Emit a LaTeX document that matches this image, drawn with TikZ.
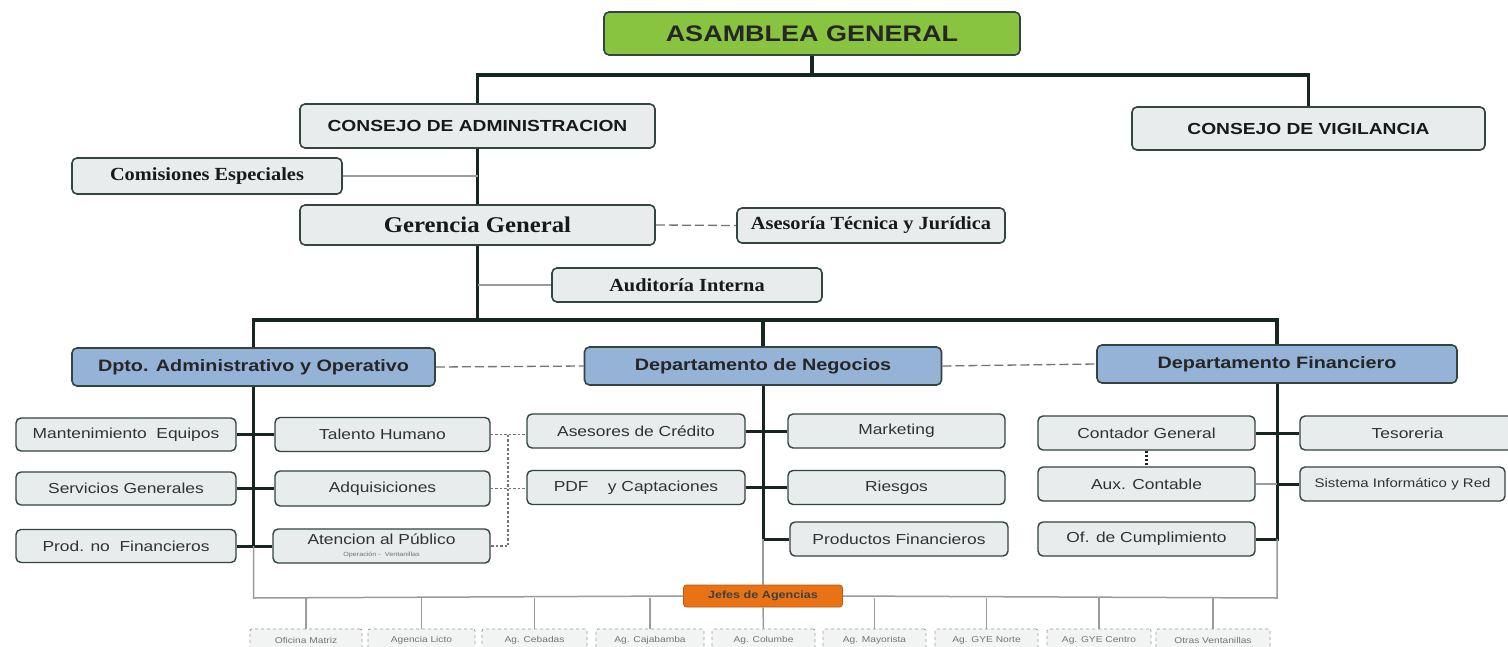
\documentclass[tikz,border=0pt]{standalone}
\usepackage{fontspec}
\setmainfont{Liberation Sans}[FakeStretch=1.2]
\newfontfamily\serifb{Liberation Serif}[FakeStretch=1.1]
\definecolor{grn}{RGB}{137,196,64}
\definecolor{bline}{RGB}{52,68,64}
\definecolor{gfill}{RGB}{233,236,236}
\definecolor{bfill}{RGB}{149,179,215}
\definecolor{orng}{RGB}{232,114,20}
\definecolor{trunk}{RGB}{24,38,32}
\definecolor{thin}{RGB}{155,155,155}
\definecolor{txt}{RGB}{50,50,50}
\begin{document}
\begin{tikzpicture}[x=1pt,y=-1pt,
  base/.style={draw=bline, line width=1.6pt, rounded corners=5pt, inner sep=0pt, align=center},
  greenbox/.style={base, fill=grn, text=black!85, font=\bfseries\fontsize{22.5}{24}\selectfont},
  headbox/.style={base, fill=gfill, text=black!90, font=\bfseries\fontsize{16}{18}\selectfont},
  serifbox/.style={base, fill=gfill, text=black!90, font=\serifb\bfseries\fontsize{18.5}{20}\selectfont},
  deptbox/.style={base, fill=bfill, text=black!85, font=\bfseries\fontsize{16.5}{18}\selectfont},
  smallbox/.style={base, line width=1.4pt, fill=gfill, text=txt, font=\fontsize{14.5}{15}\selectfont},
  agbox/.style={draw=thin, dashed, line width=0.8pt, rounded corners=2pt, fill=gfill!60, text=black!55, inner sep=0pt, font=\fontsize{8.5}{9}\selectfont, minimum height=23pt},
  jefebox/.style={draw=orng!80!black, line width=0.8pt, rounded corners=3pt, fill=orng, text=black!75, inner sep=0pt, font=\bfseries\fontsize{10.5}{11}\selectfont},
  thickline/.style={draw=trunk, line width=3.6pt},
  midline/.style={draw=trunk, line width=3pt},
  thinline/.style={draw=thin, line width=1.8pt},
  dashline/.style={draw=black!55, line width=1.3pt, dash pattern=on 9pt off 4pt},
  dotline/.style={draw=black!55, line width=1.1pt, dash pattern=on 2.5pt off 2pt},
  bottomline/.style={draw=thin, line width=1.5pt}
]
\useasboundingbox (0,0) rectangle (1508,646);
\clip (0,0) rectangle (1508,646);
\fill[white] (0,0) rectangle (1508,646);

% ---------- coordinates ----------
\coordinate (topbar) at (0,75);
\coordinate (midbar) at (0,320);
\coordinate (botbar) at (0,598);
\coordinate (dotx) at (508,0);

% ---------- nodes ----------
\node[greenbox, minimum width=416pt, minimum height=43pt] (asm) at (812,33.5) {ASAMBLEA GENERAL};
\node[headbox, minimum width=355pt, minimum height=44pt] (cadm) at (477.5,126) {CONSEJO DE ADMINISTRACION};
\node[headbox, minimum width=353pt, minimum height=43pt] (cvig) at (1308.5,128.5) {CONSEJO DE VIGILANCIA};
\node[serifbox, minimum width=270pt, minimum height=36pt] (com) at (207,176) {Comisiones Especiales};
\node[serifbox, minimum width=355pt, minimum height=40pt, font=\serifb\bfseries\fontsize{22.5}{24}\selectfont] (ger) at (477.5,225) {Gerencia General};
\node[serifbox, minimum width=268pt, minimum height=35pt] (ase) at (871,225.5) {Asesoría Técnica y Jurídica};
\node[serifbox, minimum width=270pt, minimum height=34pt] (aud) at (687,285) {Auditoría Interna};

\node[deptbox, minimum width=363pt, minimum height=38pt] (dadm) at (253.5,367) {Dpto. Administrativo y Operativo};
\node[deptbox, minimum width=357pt, minimum height=38pt] (dneg) at (763,366) {Departamento de Negocios};
\node[deptbox, minimum width=360pt, minimum height=38pt] (dfin) at (1277,364) {Departamento Financiero};

\node[smallbox, minimum width=220pt, minimum height=33pt] (mant) at (126,434.5) {Mantenimiento\ \ Equipos};
\node[smallbox, minimum width=215pt, minimum height=34pt] (tal) at (382.5,434.5) {Talento Humano};
\node[smallbox, minimum width=220pt, minimum height=33pt] (serv) at (126,488.5) {Servicios Generales};
\node[smallbox, minimum width=215pt, minimum height=35pt] (adq) at (382.5,488.5) {Adquisiciones};
\node[smallbox, minimum width=220pt, minimum height=33pt] (prod) at (126,546) {Prod. no\ \ Financieros};
\node[smallbox, minimum width=217pt, minimum height=34pt] (aten) at (381.5,546) {Atencion al Público\\[-3pt]{\fontsize{6}{6}\selectfont\color{black!55}Operación -\ \ Ventanillas}};

\node[smallbox, minimum width=218pt, minimum height=34pt] (asesc) at (636,431) {Asesores de Crédito};
\node[smallbox, minimum width=217pt, minimum height=34pt] (mkt) at (896.5,431) {Marketing};
\node[smallbox, minimum width=218pt, minimum height=34pt] (pdf) at (636,487.5) {PDF\ \ \ \ y Captaciones};
\node[smallbox, minimum width=217pt, minimum height=34pt] (rie) at (896.5,487.5) {Riesgos};
\node[smallbox, minimum width=218pt, minimum height=34pt] (pfin) at (899,539) {Productos Financieros};

\node[smallbox, minimum width=217pt, minimum height=34pt] (cont) at (1146.5,433) {Contador General};
\node[smallbox, minimum width=215pt, minimum height=34pt] (tes) at (1407.5,433) {Tesoreria};
\node[smallbox, minimum width=217pt, minimum height=34pt] (aux) at (1146.5,484) {Aux. Contable};
\node[smallbox, minimum width=205pt, minimum height=34pt, font=\fontsize{12.5}{13}\selectfont] (sis) at (1402.5,484) {Sistema Informático y Red};
\node[smallbox, minimum width=217pt, minimum height=34pt] (ofc) at (1146.5,539) {Of. de Cumplimiento};

\node[jefebox, minimum width=159pt, minimum height=22pt] (jefes) at (763,596) {Jefes de Agencias};

\node[agbox, minimum width=112pt] (om) at (306,640.5) {Oficina Matriz};
\node[agbox, minimum width=107pt] (lic) at (421.5,640.5) {Agencia Licto};
\node[agbox, minimum width=105pt] (ceb) at (534.5,640.5) {Ag. Cebadas};
\node[agbox, minimum width=108pt] (caj) at (650,640.5) {Ag. Cajabamba};
\node[agbox, minimum width=103pt] (col) at (763.5,640.5) {Ag. Columbe};
\node[agbox, minimum width=103pt] (may) at (874.5,640.5) {Ag. Mayorista};
\node[agbox, minimum width=103pt] (gyn) at (986.5,640.5) {Ag. GYE Norte};
\node[agbox, minimum width=104pt] (gyc) at (1099,640.5) {Ag. GYE Centro};
\node[agbox, minimum width=114pt] (otr) at (1213,640.5) {Otras Ventanillas};

% ---------- top connectors ----------
\draw[thickline] (asm.south) -- (asm.south |- topbar);
\draw[thickline] (cadm.north) |- (asm.south |- topbar) -| (cvig.north);
\draw[thickline] (cadm.south) -- (ger.north);
\draw[thinline] (com.east) -- (com.east -| cadm.south);
\draw[dashline] (ger.east) -- (ase.west);
\draw[thickline] (ger.south) -- (ger.south |- midbar);
\draw[thinline] (aud.west) -- (aud.west -| ger.south);
\draw[thickline] (dadm.north) |- (ger.south |- midbar) -| (dfin.north);
\draw[thickline] (dneg.north) -- (dneg.north |- midbar);
\draw[dashline] (dadm.east) -- (dneg.west);
\draw[dashline] (dneg.east) -- (dfin.west);

% ---------- left group ----------
\draw[midline] (dadm.south) -- (dadm.south |- aten.west);
\draw[midline] (mant.east) -- (tal.west);
\draw[midline] (serv.east) -- (adq.west);
\draw[midline] (prod.east) -- (aten.west);
\draw[dotline] (tal.east) -- (tal.east -| asesc.west);
\draw[dotline] (adq.east) -- (adq.east -| pdf.west);
\draw[dotline] (tal.east -| dotx) -- (aten.east -| dotx) -- (aten.east);

% ---------- middle group ----------
\draw[midline] (dneg.south) -- (dneg.south |- pfin.west) -- (pfin.west);
\draw[midline] (asesc.east) -- (mkt.west);
\draw[midline] (pdf.east) -- (rie.west);

% ---------- right group ----------
\draw[midline] (dfin.south) -- (dfin.south |- ofc.east) -- (ofc.east);
\draw[midline] (cont.east) -- (tes.west);
\draw[thinline] (aux.east) -- (aux.east -| dfin.south);
\draw[midline] (aux.east -| dfin.south) -- (sis.west);
\draw[draw=trunk, line width=3pt, dash pattern=on 2.5pt off 1.5pt] (cont.south) -- (aux.north);

% ---------- bottom network ----------
\draw[bottomline] (dadm.south |- aten.west) -- (dadm.south |- botbar) -- (jefes.west);
\draw[bottomline] (jefes.east) -- (dfin.south |- botbar) -- (dfin.south |- ofc.east);
\draw[bottomline] (dneg.south |- pfin.west) -- (jefes.north);
\draw[bottomline] (jefes.south) -- (col.north);
\foreach \a in {om,lic,ceb,caj,may,gyn,gyc,otr}
  \draw[bottomline] (\a.north) -- (\a.north |- botbar);
\end{tikzpicture}
\end{document}
